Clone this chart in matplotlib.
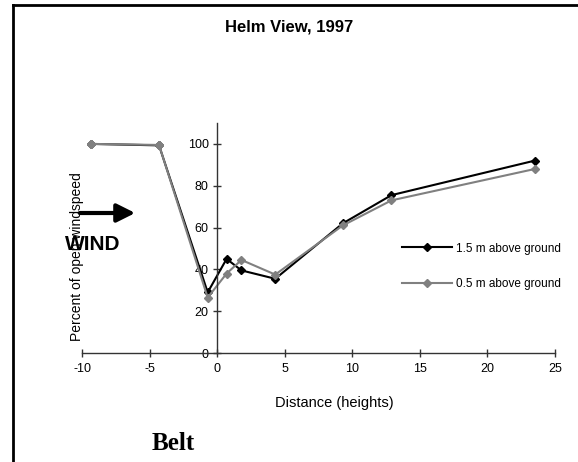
import matplotlib.pyplot as plt
from matplotlib.lines import Line2D

# data
dist_15 = [-9.3, -4.3, -0.7, 0.7, 1.8, 4.3, 9.3, 12.9, 23.5]
wind_15 = [100, 99.3, 29, 45, 39.5, 35.5, 62, 75.5, 92]
dist_05 = [-9.3, -4.3, -0.7, 0.7, 1.8, 4.3, 9.3, 12.9, 23.5]
wind_05 = [100, 99.5, 26.5, 38, 44.5, 37.5, 61, 73, 88]
xticks = [-10, -5, 0, 5, 10, 15, 20, 25]
yticks = [0, 20, 40, 60, 80, 100]

plt.rcParams['font.family'] = ['Liberation Sans', 'DejaVu Sans']
plt.rcParams['axes.unicode_minus'] = False

fig = plt.figure(figsize=(5.78, 4.62), dpi=100)
W, H = 578, 462
ax = fig.add_axes([82 / W, 1 - 353 / H, 473 / W, 230 / H])

ax.plot(dist_15, wind_15, color='black', lw=1.5, marker='D', ms=4, label='1.5 m above ground')
ax.plot(dist_05, wind_05, color='#808080', lw=1.5, marker='D', ms=4, label='0.5 m above ground')

ax.set_xlim(-10, 25)
ax.set_ylim(0, 110)
ax.set_xticks(xticks)
ax.set_yticks(yticks)
ax.spines['left'].set_position(('data', 0))
ax.spines['right'].set_visible(False)
ax.spines['top'].set_visible(False)
for s in ['left', 'bottom']:
    ax.spines[s].set_color('#333333')
    ax.spines[s].set_linewidth(1)
ax.tick_params(direction='inout', length=6, width=1, colors='#333333', labelsize=9, labelcolor='black')
ax.tick_params(axis='x', pad=4)
ax.tick_params(axis='y', pad=3)

ax.set_xlabel('Distance (heights)', fontsize=10.5)
ax.xaxis.set_label_coords((334 - 82) / 473, -(403 - 353) / 230)
ax.xaxis.label.set_va('center')
ax.set_ylabel('Percent of open windspeed', fontsize=10, va='center')
ax.yaxis.set_label_coords((77 - 82) / 473, (353 - 257) / 230)

leg = ax.legend(loc='upper left', bbox_to_anchor=(391 / W, 1 - 232 / H), bbox_transform=fig.transFigure,
                frameon=False, fontsize=8.5, handlelength=4.3, labelspacing=2.0, handletextpad=0.3)

fig.text(289 / W, 1 - 27 / H, 'Helm View, 1997', ha='center', va='center', fontsize=12, fontweight='bold')
fig.text(93 / W, 1 - 245 / H, 'WIND', ha='center', va='center', fontsize=15, fontweight='bold')
fig.text(173 / W, 1 - 443 / H, 'Belt', ha='center', va='center', fontsize=18, fontweight='bold',
         family='Liberation Serif')

# wind arrow
ax_arrow = fig.add_axes([0, 0, 1, 1], facecolor='none')
ax_arrow.set_xlim(0, W)
ax_arrow.set_ylim(H, 0)
ax_arrow.axis('off')
ax_arrow.annotate('', xy=(138, 213), xytext=(77, 213),
                  arrowprops=dict(arrowstyle='-|>,head_length=1.1,head_width=0.55', lw=3, color='black'))

# frame border (top and left)
fig.add_artist(Line2D([13 / W, 13 / W], [0, 1 - 5 / H], color='black', lw=2))
fig.add_artist(Line2D([13 / W, 1], [1 - 5 / H, 1 - 5 / H], color='black', lw=2))

fig.savefig('out.png', dpi=100)
